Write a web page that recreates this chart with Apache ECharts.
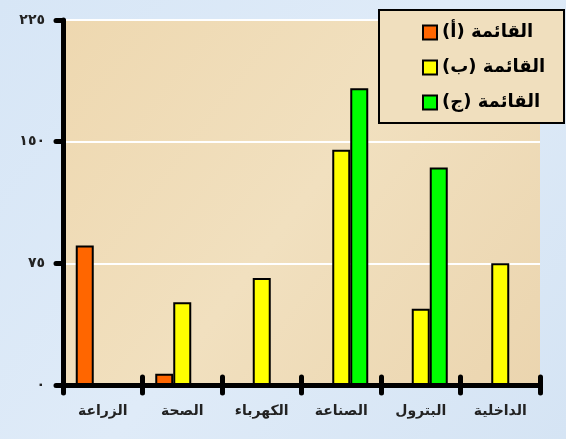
<!DOCTYPE html>
<html>
<head>
<meta charset="utf-8">
<script src="https://cdn.jsdelivr.net/npm/echarts@6/dist/echarts.min.js"></script>
<style>
html,body{margin:0;padding:0;background:#dbe8f6;}
#c{width:566px;height:439px;}
</style>
</head>
<body>
<div id="c"></div>
<script>
var categories = ['الزراعة', 'الصحة', 'الكهرباء', 'الصناعة', 'البترول', 'الداخلية'];
var seriesNames = ['القائمة (أ)', 'القائمة (ب)', 'القائمة (ج)'];
var listA = [86, 7, null, null, null, null];
var listB = [null, 51, 66, 145, 47, 75];
var listC = [null, null, null, 183, 134, null];
var yTickValues = [0, 75, 150, 225];
var yTickLabels = ['٠', '٧٥', '١٥٠', '٢٢٥'];

var colors = ['#ff6600', '#ffff00', '#00ff00'];
var font = '"DejaVu Sans", Arial, sans-serif';

var chart = echarts.init(document.getElementById('c'));
function mkSeries(name, data, color) {
  return {
    name: name, type: 'bar', data: data, barWidth: 18, barGap: '0%',
    itemStyle: { color: color, borderColor: '#000', borderWidth: 2 },
    xAxisIndex: 0, yAxisIndex: 0
  };
}
chart.setOption({
  animation: false,
  backgroundColor: {
    type: 'linear', x: 0, y: 0, x2: 1, y2: 1,
    colorStops: [{offset: 0, color: '#d7e6f6'}, {offset: 0.5, color: '#dfebf8'}, {offset: 1, color: '#d5e4f4'}]
  },
  graphic: [{
    type: 'rect', left: 378, top: 9, z: 1,
    shape: { width: 185, height: 113 },
    style: { fill: '#f0dfbe', stroke: '#000', lineWidth: 2 }
  }],
  grid: {
    left: 63, right: 26, top: 20, bottom: 54, show: true,
    backgroundColor: {
      type: 'linear', x: 0, y: 0, x2: 1, y2: 1,
      colorStops: [{offset: 0, color: '#eed8b0'}, {offset: 0.5, color: '#f1e0bf'}, {offset: 1, color: '#ebd5af'}]
    },
    borderWidth: 0
  },
  legend: {
    orient: 'vertical', left: 417, top: 17, itemGap: 14,
    itemWidth: 14, itemHeight: 14, icon: 'rect', z: 5,
    data: seriesNames,
    textStyle: { fontFamily: font, fontWeight: 'bold', fontSize: 18, color: '#000', lineHeight: 21 }
  },
  xAxis: [{
    type: 'category', data: categories,
    axisLine: { lineStyle: { color: '#000', width: 5, cap: 'round' } },
    axisTick: { show: true, length: 8, lineStyle: { color: '#000', width: 5, cap: 'round' } },
    axisLabel: { fontFamily: font, fontWeight: 'bold', fontSize: 14, color: '#222', margin: 19 },
    splitLine: { show: false }
  }, {
    type: 'category', data: categories, position: 'bottom',
    axisLine: { show: false },
    axisTick: { show: true, inside: true, length: 8, lineStyle: { color: '#000', width: 5, cap: 'round' } },
    axisLabel: { show: false }
  }],
  yAxis: {
    type: 'value', min: 0, max: 225, interval: 75,
    axisLine: { show: true, lineStyle: { color: '#000', width: 5, cap: 'round' } },
    axisTick: { show: true, length: 7, lineStyle: { color: '#000', width: 5, cap: 'round' } },
    axisLabel: {
      fontFamily: font, fontWeight: 'bold', fontSize: 14, color: '#222', margin: 18,
      formatter: function (v) { var i = yTickValues.indexOf(v); return i >= 0 ? yTickLabels[i] : ''; }
    },
    splitLine: { show: true, lineStyle: { color: '#ffffff', width: 2 } }
  },
  series: [
    mkSeries(seriesNames[0], listA, colors[0]),
    mkSeries(seriesNames[1], listB, colors[1]),
    mkSeries(seriesNames[2], listC, colors[2])
  ]
});
</script>
</body>
</html>
